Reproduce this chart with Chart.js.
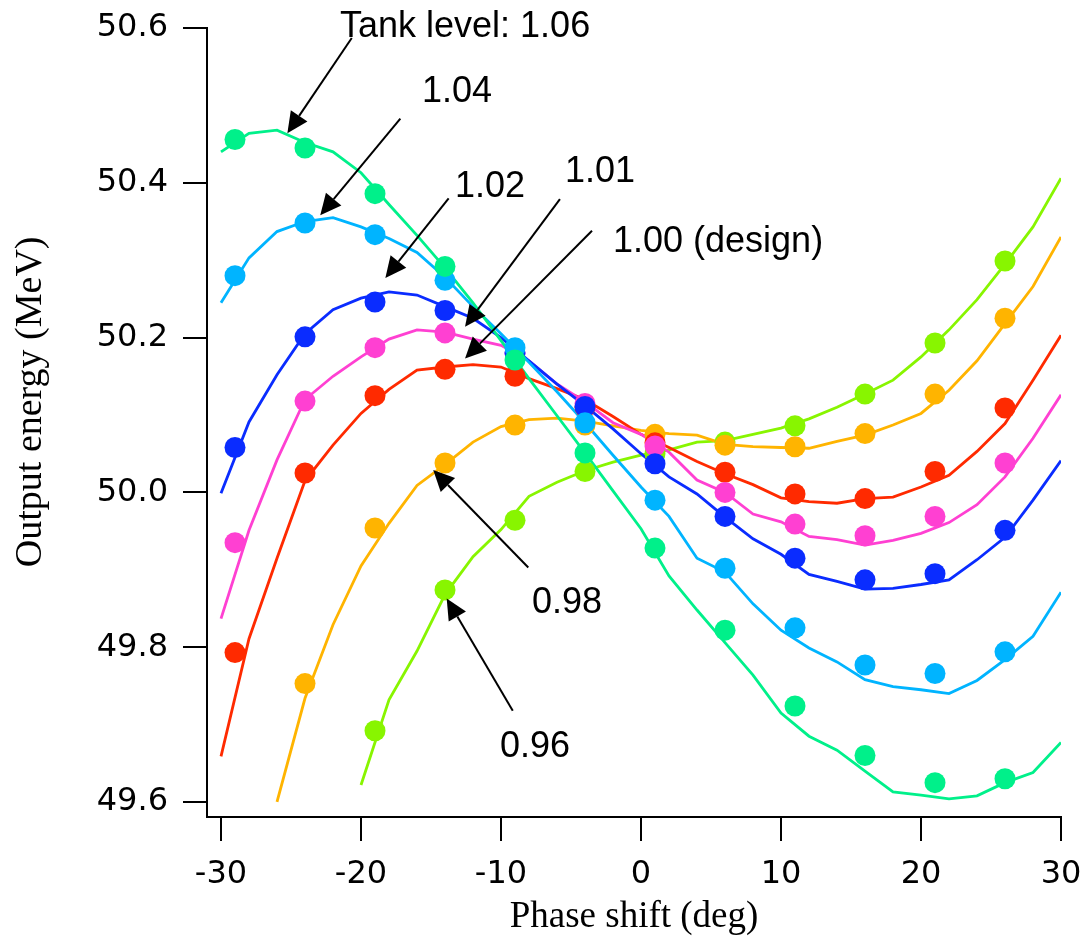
<!DOCTYPE html>
<html>
<head>
<meta charset="utf-8">
<script src="https://cdn.jsdelivr.net/npm/chart.js@4.4.0/dist/chart.umd.min.js"></script>
<style>
  html, body { margin: 0; padding: 0; background: #fff; }
  #wrap { width: 1085px; height: 941px; }
</style>
</head>
<body>
<div id="wrap"><canvas id="phaseChart" width="1085" height="941"></canvas></div>
<script>
// Phase shift grid of the simulation curves (deg)
const simPhase = [-30, -28, -26, -24, -22, -20, -18, -16, -14, -12, -10, -8, -6, -4, -2, 0,
                  2, 4, 6, 8, 10, 12, 14, 16, 18, 20, 22, 24, 26, 28, 30];
// Phase shift of the measured points (deg)
const measPhase = [-29, -24, -19, -14, -9, -4, 1, 6, 11, 16, 21, 26];

// Simulated output energy (MeV), one per tank level
const sim106 = [50.440, 50.464, 50.468, 50.452, 50.440, 50.413, 50.372, 50.332, 50.290, 50.245, 50.196, 50.147, 50.099, 50.051, 50.002, 49.953,
                49.892, 49.848, 49.806, 49.764, 49.715, 49.685, 49.667, 49.640, 49.613, 49.609, 49.604, 49.608, 49.625, 49.638, 49.677];
const sim104 = [50.245, 50.303, 50.337, 50.350, 50.355, 50.343, 50.328, 50.310, 50.278, 50.240, 50.205, 50.168, 50.130, 50.090, 50.048, 50.007,
                49.969, 49.915, 49.897, 49.856, 49.822, 49.799, 49.781, 49.758, 49.749, 49.745, 49.740, 49.757, 49.784, 49.814, 49.871];
const sim102 = [49.999, 50.091, 50.152, 50.205, 50.236, 50.251, 50.259, 50.255, 50.240, 50.225, 50.200, 50.170, 50.140, 50.112, 50.082, 50.050,
                50.020, 49.998, 49.968, 49.940, 49.920, 49.894, 49.885, 49.875, 49.876, 49.881, 49.887, 49.913, 49.942, 49.990, 50.041];
const sim101 = [49.837, 49.951, 50.042, 50.120, 50.150, 50.175, 50.198, 50.210, 50.207, 50.198, 50.190, 50.170, 50.140, 50.117, 50.090, 50.075,
                50.052, 50.016, 50.000, 49.972, 49.962, 49.943, 49.939, 49.932, 49.938, 49.947, 49.961, 49.984, 50.020, 50.070, 50.126];
const sim100 = [49.659, 49.811, 49.915, 50.015, 50.061, 50.102, 50.133, 50.158, 50.162, 50.165, 50.162, 50.147, 50.134, 50.120, 50.098, 50.075,
                50.058, 50.040, 50.024, 50.010, 49.993, 49.988, 49.986, 49.992, 49.994, 50.007, 50.022, 50.053, 50.089, 50.145, 50.203];
const sim098 = [null, null, 49.600, 49.734, 49.829, 49.905, 49.960, 50.009, 50.036, 50.065, 50.085, 50.094, 50.096, 50.092, 50.086, 50.080,
                50.076, 50.074, 50.062, 50.059, 50.058, 50.057, 50.066, 50.074, 50.087, 50.102, 50.132, 50.170, 50.218, 50.266, 50.330];
const sim096 = [null, null, null, null, null, 49.622, 49.732, 49.795, 49.868, 49.917, 49.952, 49.995, 50.013, 50.028, 50.039, 50.048,
                50.055, 50.065, 50.067, 50.075, 50.083, 50.095, 50.110, 50.127, 50.145, 50.175, 50.210, 50.249, 50.295, 50.343, 50.406];

// Measured output energy (MeV)
const meas106 = [50.456, 50.445, 50.386, 50.292, 50.171, 50.051, 49.928, 49.822, 49.724, 49.660, 49.625, 49.630];
const meas104 = [50.280, 50.348, 50.333, 50.274, 50.187, 50.090, 49.990, 49.902, 49.825, 49.777, 49.766, 49.794];
const meas102 = [50.058, 50.201, 50.246, 50.235, 50.180, 50.111, 50.037, 49.969, 49.915, 49.887, 49.895, 49.951];
const meas101 = [49.935, 50.118, 50.187, 50.206, 50.180, 50.115, 50.060, 50.000, 49.959, 49.944, 49.969, 50.038];
const meas100 = [49.793, 50.025, 50.125, 50.159, 50.150, 50.110, 50.064, 50.026, 49.998, 49.992, 50.027, 50.109];
const meas098 = [null, 49.753, 49.954, 50.038, 50.087, 50.087, 50.075, 50.061, 50.059, 50.076, 50.127, 50.225];
const meas096 = [null, null, 49.692, 49.874, 49.964, 50.027, 50.050, 50.065, 50.086, 50.127, 50.193, 50.299];

// Axis ticks
const xTicks = [-30, -20, -10, 0, 10, 20, 30];
const xTickLabels = ['-30', '-20', '-10', '0', '10', '20', '30'];
const yTicks = [49.6, 49.8, 50.0, 50.2, 50.4, 50.6];
const yTickLabels = ['49.6', '49.8', '50.0', '50.2', '50.4', '50.6'];

const levels = [
    { sim: sim106, meas: meas106, color: '#00f08a' },
    { sim: sim104, meas: meas104, color: '#00b4ff' },
    { sim: sim102, meas: meas102, color: '#0a2cff' },
    { sim: sim101, meas: meas101, color: '#ff40d2' },
    { sim: sim100, meas: meas100, color: '#ff2a00' },
    { sim: sim098, meas: meas098, color: '#ffb400' },
    { sim: sim096, meas: meas096, color: '#88f500' },
];

const toPoints = (xs, ys) => xs.map((x, i) => ({ x: x, y: ys[i] })).filter(p => p.y !== null);

const datasets = [];
levels.forEach(lv => {
    datasets.push({
        data: toPoints(simPhase, lv.sim),
        borderColor: lv.color,
        borderWidth: 2.8,
        pointRadius: 0,
        tension: 0,
        order: 1,
    });
    datasets.push({
        data: toPoints(measPhase, lv.meas),
        showLine: false,
        pointRadius: 10.5,
        pointBorderWidth: 0,
        pointBackgroundColor: lv.color,
        borderColor: lv.color,
        order: 0,
    });
});

// Labels with arrows, anchored in data coordinates
const notes = [
    { text: 'Tank level: 1.06', at: [-21.5, 50.588], from: [-20.66, 50.587], to: [-25.26, 50.464] },
    { text: '1.04', at: [-15.64, 50.504], from: [-17.19, 50.483], to: [-22.91, 50.358] },
    { text: '1.02', at: [-13.29, 50.382], from: [-13.74, 50.380], to: [-18.26, 50.277] },
    { text: '1.01', at: [-5.43, 50.401], from: [-5.79, 50.379], to: [-12.57, 50.214] },
    { text: '1.00 (design)', at: [-2.0, 50.311], from: [-3.5, 50.338], to: [-12.57, 50.173] },
    { text: '0.98', at: [-7.79, 49.844], from: [-8.05, 49.903], to: [-14.84, 50.029] },
    { text: '0.96', at: [-10.07, 49.658], from: [-9.16, 49.718], to: [-13.88, 49.863] },
];

const notesPlugin = {
    id: 'notes',
    afterDatasetsDraw(chart) {
        const { ctx, scales: { x, y } } = chart;
        ctx.save();
        ctx.fillStyle = '#000';
        ctx.strokeStyle = '#000';
        ctx.lineWidth = 2;
        ctx.font = '36px "Liberation Sans", Arial, sans-serif';
        ctx.textBaseline = 'alphabetic';
        ctx.textAlign = 'left';
        notes.forEach(n => {
            ctx.fillText(n.text, x.getPixelForValue(n.at[0]), y.getPixelForValue(n.at[1]));
            const x1 = x.getPixelForValue(n.from[0]), y1 = y.getPixelForValue(n.from[1]);
            const x2 = x.getPixelForValue(n.to[0]), y2 = y.getPixelForValue(n.to[1]);
            const ang = Math.atan2(y2 - y1, x2 - x1);
            const headLen = 21, headHalf = 10;
            const bx = x2 - headLen * Math.cos(ang), by = y2 - headLen * Math.sin(ang);
            ctx.beginPath();
            ctx.moveTo(x1, y1);
            ctx.lineTo(bx, by);
            ctx.stroke();
            ctx.beginPath();
            ctx.moveTo(x2, y2);
            ctx.lineTo(bx + headHalf * Math.sin(ang), by - headHalf * Math.cos(ang));
            ctx.lineTo(bx - headHalf * Math.sin(ang), by + headHalf * Math.cos(ang));
            ctx.closePath();
            ctx.fill();
        });

        // y axis title, a little above the middle of the axis as in the original
        ctx.font = '38px "Liberation Serif", "Times New Roman", serif';
        ctx.textAlign = 'center';
        ctx.textBaseline = 'middle';
        ctx.translate(31, y.getPixelForValue(50.117));
        ctx.rotate(-Math.PI / 2);
        ctx.fillText('Output energy (MeV)', 0, 0);
        ctx.restore();
    }
};

const tickFont = { family: '"DejaVu Sans", sans-serif', size: 32 };
const titleFont = { family: '"Liberation Serif", "Times New Roman", serif', size: 37 };

new Chart(document.getElementById('phaseChart'), {
    type: 'line',
    data: { datasets: datasets },
    options: {
        responsive: false,
        animation: false,
        layout: { padding: { top: 28, right: 24, bottom: 0, left: 0 } },
        plugins: { legend: { display: false }, tooltip: { enabled: false } },
        scales: {
            x: {
                type: 'linear',
                min: -31,
                max: 30,
                afterBuildTicks: scale => { scale.ticks = xTicks.map(v => ({ value: v })); },
                afterFit: scale => {
                    scale.height = 124;
                    scale.paddingLeft = 0;
                    scale.paddingRight = 0;
                },
                ticks: {
                    color: '#000',
                    font: tickFont,
                    padding: 14,
                    maxRotation: 0,
                    callback: (v, i) => xTickLabels[i],
                },
                grid: { drawOnChartArea: false, drawTicks: true, tickLength: 24, color: '#000', lineWidth: 2 },
                border: { display: true, color: '#000', width: 2 },
                title: { display: true, text: 'Phase shift (deg)', color: '#000', font: titleFont, padding: { top: 0, bottom: 2 } },
            },
            y: {
                type: 'linear',
                min: 49.5806,
                max: 50.6,
                afterBuildTicks: scale => { scale.ticks = yTicks.map(v => ({ value: v })); },
                afterFit: scale => {
                    scale.width = 207;
                    scale.paddingTop = 0;
                    scale.paddingBottom = 0;
                },
                ticks: {
                    color: '#000',
                    font: tickFont,
                    padding: 15,
                    callback: (v, i) => yTickLabels[i],
                },
                grid: { drawOnChartArea: false, drawTicks: true, tickLength: 24, color: '#000', lineWidth: 2 },
                border: { display: true, color: '#000', width: 2 },
                title: { display: false },
            },
        },
    },
    plugins: [notesPlugin],
});
</script>
</body>
</html>
